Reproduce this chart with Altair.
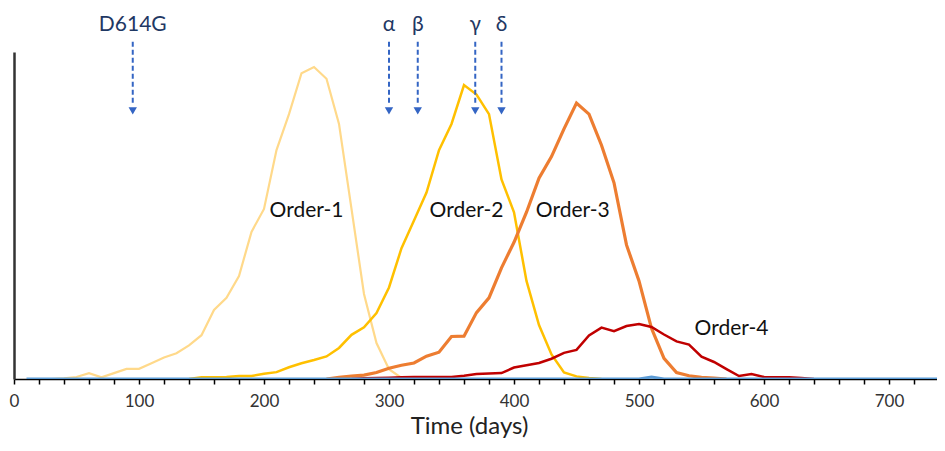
import altair as alt
import pandas as pd

# ---- data (x = days, y = relative level, 0-100) ----
order1_days = [30, 40, 50, 60, 70, 80, 90, 100, 110, 120, 130, 140, 150, 160, 170, 180, 190, 200,
               210, 220, 230, 240, 250, 260, 270, 280, 290, 300, 310, 320]
order1_vals = [0, 0.2, 0.6, 1.8, 0.5, 1.8, 3.1, 3.1, 4.8, 6.6, 7.9, 10.3, 13.4, 21.1, 24.8, 31.5, 45, 52,
               70, 81, 93.5, 95.4, 91.8, 78, 52, 26, 11, 3, 0.3, 0]

order2_days = [140, 150, 160, 170, 180, 190, 200, 210, 220, 230, 240, 250, 260, 270, 280, 290, 300,
               310, 320, 330, 340, 350, 360, 370, 380, 390, 400, 410, 420, 430, 440, 450, 460, 470]
order2_vals = [0, 0.5, 0.5, 0.6, 0.9, 0.9, 1.6, 2.1, 3.6, 4.8, 5.8, 6.9, 9.5, 13.5, 15.8, 20.2, 28,
               40, 48.5, 57, 70, 78, 89.9, 87, 81, 61, 51, 30, 16.5, 7.5, 2, 0.8, 0.3, 0]

order3_days = [250, 260, 270, 280, 290, 300, 310, 320, 330, 340, 350, 360, 370, 380, 390, 400, 410,
               420, 430, 440, 450, 460, 470, 480, 490, 500, 510, 520, 530, 540, 550, 560, 570]
order3_vals = [0, 0.5, 0.9, 1.2, 2, 3.3, 4.2, 4.9, 7, 8.2, 13, 13.1, 20.3, 24.8, 34, 41.8, 51,
               61.4, 68, 76.5, 84.4, 81, 71.5, 60, 41, 30, 15.5, 6.3, 2, 1, 0.5, 0.3, 0]

order4_days = [270, 280, 290, 300, 310, 320, 330, 340, 350, 360, 370, 380, 390, 400, 410, 420, 430,
               440, 450, 460, 470, 480, 490, 500, 510, 520, 530, 540, 550, 560, 570, 580, 590, 600,
               610, 620, 630, 640]
order4_vals = [0, 0.2, 0.3, 0.4, 0.5, 0.6, 0.6, 0.6, 0.6, 1, 1.5, 1.7, 1.8, 3.5, 4.2, 4.9, 6.2,
               8, 8.9, 13.3, 15.7, 14.6, 16.2, 16.8, 15.9, 13.6, 11.5, 10.5, 6.8, 5.2, 3, 0.9, 1.5, 0.6,
               0.5, 0.5, 0.3, 0]

base_days = [10, 500, 510, 520, 760]
base_vals = [0, 0, 0.6, 0, 0]

series_names = ["Order-1", "Order-2", "Order-3", "Order-4", "base"]
series_colors = ["#FFD98A", "#FFC000", "#ED7D31", "#C00000", "#5B9BD5"]
series_widths = [2.2, 2.5, 3.2, 2.5, 3]

order_labels = ["Order-1", "Order-2", "Order-3", "Order-4"]
order_label_x = [234, 362, 447, 574]
order_label_y = [51.4, 51.4, 51.4, 15.3]

variant_labels = ["D614G", "α", "β", "γ", "δ"]
variant_days = [95, 300, 323, 369, 390]

x_ticks = list(range(0, 760, 20))

FONT = "Lato, 'Open Sans', sans-serif"
ARROW = "#3465C4"

# ---- shared encodings ----
xscale = alt.Scale(domain=[0, 738.4], nice=False, zero=False)
yscale = alt.Scale(domain=[0, 100], nice=False)

x_axis = alt.Axis(values=x_ticks, labelExpr="datum.value % 100 == 0 ? datum.label : ''",
                  tickSize=5, tickColor="#000", tickWidth=1.5, domainColor="#000", domainWidth=1.5,
                  labelFontSize=17, labelColor="#333", labelFont=FONT, labelPadding=9,
                  labelOverlap=False, labelFlush=False,
                  title="Time (days)", titleFontSize=24, titleFont=FONT, titleFontWeight="normal",
                  titleColor="#222", titlePadding=5, titleX=455, grid=False)
y_axis = alt.Axis(labels=False, ticks=False, title=None, domainColor="#333", domainWidth=2.5, grid=False)

X = alt.X("day:Q", scale=xscale, axis=x_axis)
Y = alt.Y("value:Q", scale=yscale, axis=y_axis)

all_days = [order1_days, order2_days, order3_days, order4_days, base_days]
all_vals = [order1_vals, order2_vals, order3_vals, order4_vals, base_vals]

layers = []
for i, name in enumerate(series_names):
    df = pd.DataFrame({"day": all_days[i], "value": all_vals[i]})
    layers.append(
        alt.Chart(df).mark_line(color=series_colors[i], strokeWidth=series_widths[i], clip=True)
        .encode(x=X, y=Y)
    )

lab_df = pd.DataFrame({"label": order_labels, "day": order_label_x, "value": order_label_y})
layers.append(
    alt.Chart(lab_df).mark_text(fontSize=21, font=FONT, color="#111", baseline="middle", align="center")
    .encode(x=X, y=Y, text="label:N")
)

n = len(variant_labels)
txt_df = pd.DataFrame({"label": variant_labels, "day": variant_days, "value": [106.3] * n})
layers.append(
    alt.Chart(txt_df).mark_text(fontSize=21, font=FONT, color="#1F3864", baseline="alphabetic", align="center")
    .encode(x=X, y=Y, text="label:N")
)
arr_df = pd.DataFrame({"day": variant_days, "value": [103.1] * n, "bot": [84.0] * n})
layers.append(
    alt.Chart(arr_df).mark_rule(color=ARROW, strokeWidth=2, strokeDash=[5, 3])
    .encode(x=X, y=Y, y2="bot:Q")
)
head_df = pd.DataFrame({"day": variant_days, "value": [82.0] * n})
layers.append(
    alt.Chart(head_df).mark_point(shape="triangle-down", filled=True, size=70, color=ARROW, opacity=1)
    .encode(x=X, y=Y)
)

chart = alt.layer(*layers).properties(
    width=923, height=327,
    autosize=alt.AutoSizeParams(type="none"),
    padding={"left": 6, "top": 44, "right": 0, "bottom": 64},
).configure_view(stroke=None)

chart.save("out.html", embed_options={"renderer": "svg", "actions": False})
